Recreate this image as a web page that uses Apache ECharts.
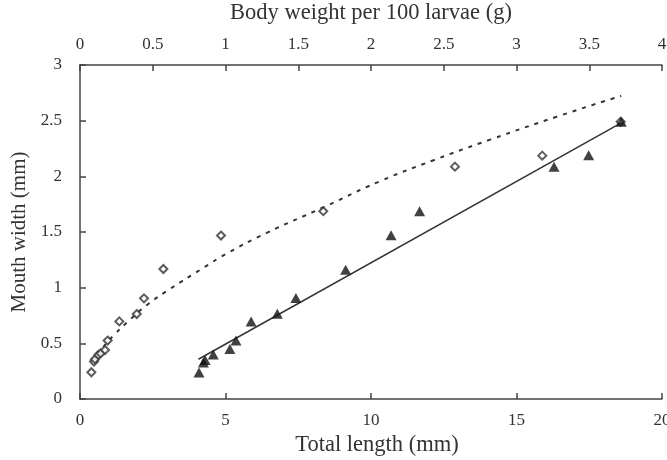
<!DOCTYPE html>
<html><head><meta charset="utf-8">
<script src="https://cdn.jsdelivr.net/npm/echarts@6/dist/echarts.min.js"></script>
<style>html,body{margin:0;padding:0;background:#fff}#c{width:667px;height:460px}</style>
</head><body><div id="c"></div>
<script>
// Open diamonds: body weight per 100 larvae (g) vs mouth width (mm)
var weightPts = [0.078,0.096,0.103,0.126,0.142,0.172,0.19,0.27,0.39,0.44,0.573,0.969,1.672,2.577,3.177,3.716];
var weightMouth = [0.24,0.336,0.357,0.396,0.41,0.44,0.525,0.697,0.763,0.904,1.168,1.468,1.687,2.087,2.186,2.49];
// Dotted fitted curve
var curveW = [0.08,0.15,0.23,0.35,0.46,0.62,0.85,1.0,1.28,1.67,2.06,2.43,2.82,3.28,3.72];
var curveY = [0.32,0.45,0.57,0.72,0.845,0.99,1.18,1.30,1.49,1.72,1.955,2.145,2.33,2.537,2.723];
// Filled triangles: total length (mm) vs mouth width (mm)
var lengthPts = [4.09,4.24,4.30,4.58,5.15,5.36,5.88,6.78,7.42,9.13,10.69,11.67,16.29,17.48,18.6];
var lengthMouth = [0.237,0.327,0.351,0.40,0.448,0.525,0.697,0.766,0.907,1.162,1.471,1.687,2.087,2.189,2.49];
// Solid fitted line
var lineL = [4.07,18.6];
var lineY = [0.357,2.48];

function zip(a,b){return a.map(function(v,i){return [v,b[i]];});}

var font = 'Liberation Serif';
var axCol = '#444';
function tick(){return {show:true,inside:true,length:6,lineStyle:{color:axCol,width:1.5}};}
var chart = echarts.init(document.getElementById('c'), null, {renderer:'canvas'});
chart.setOption({
  animation:false,
  grid:{left:80,right:5,top:65,bottom:61,containLabel:false,outerBoundsMode:'none'},
  xAxis:[
    {type:'value',position:'bottom',min:0,max:20,interval:5,
     name:'Total length (mm)',nameLocation:'middle',nameGap:32,
     nameTextStyle:{fontFamily:font,fontSize:22.5,color:'#333',padding:[0,0,0,12]},
     axisLine:{show:true,onZero:false,lineStyle:{color:axCol,width:1.5}},
     axisTick:tick(),
     axisLabel:{fontFamily:font,fontSize:17,color:'#333',margin:13,showMaxLabel:true,showMinLabel:true},
     splitLine:{show:false}},
    {type:'value',position:'top',min:0,max:4,interval:0.5,
     name:'Body weight per 100 larvae (g)',nameLocation:'middle',nameGap:40,
     nameTextStyle:{fontFamily:font,fontSize:22.5,color:'#333'},
     axisLine:{show:true,onZero:false,lineStyle:{color:axCol,width:1.5}},
     axisTick:tick(),
     axisLabel:{fontFamily:font,fontSize:17,color:'#333',margin:12,showMaxLabel:true,showMinLabel:true},
     splitLine:{show:false}}
  ],
  yAxis:[{type:'value',min:0,max:3,interval:0.5,
     name:'Mouth width (mm)',nameLocation:'middle',nameGap:43,nameRotate:90,
     nameTextStyle:{fontFamily:font,fontSize:21,color:'#333'},
     axisLine:{show:true,onZero:false,lineStyle:{color:axCol,width:1.5}},
     axisTick:tick(),
     axisLabel:{fontFamily:font,fontSize:17,color:'#333',margin:18},
     splitLine:{show:false}}],
  series:[
    {type:'line',xAxisIndex:1,data:zip(curveW,curveY),smooth:true,showSymbol:false,symbol:'none',
     lineStyle:{color:'#333',width:2,type:[4,6]},z:2},
    {type:'scatter',xAxisIndex:1,data:zip(weightPts,weightMouth),symbol:'emptyDiamond',symbolSize:8,
     itemStyle:{color:'#333',borderColor:'#333',borderWidth:1.6},z:3},
    {type:'line',xAxisIndex:0,data:zip(lineL,lineY),showSymbol:false,symbol:'none',
     lineStyle:{color:'#333',width:1.5},z:2},
    {type:'scatter',xAxisIndex:0,data:zip(lengthPts,lengthMouth),symbol:'triangle',symbolSize:[11,10],
     itemStyle:{color:'#111'},z:4}
  ]
});
</script></body></html>
